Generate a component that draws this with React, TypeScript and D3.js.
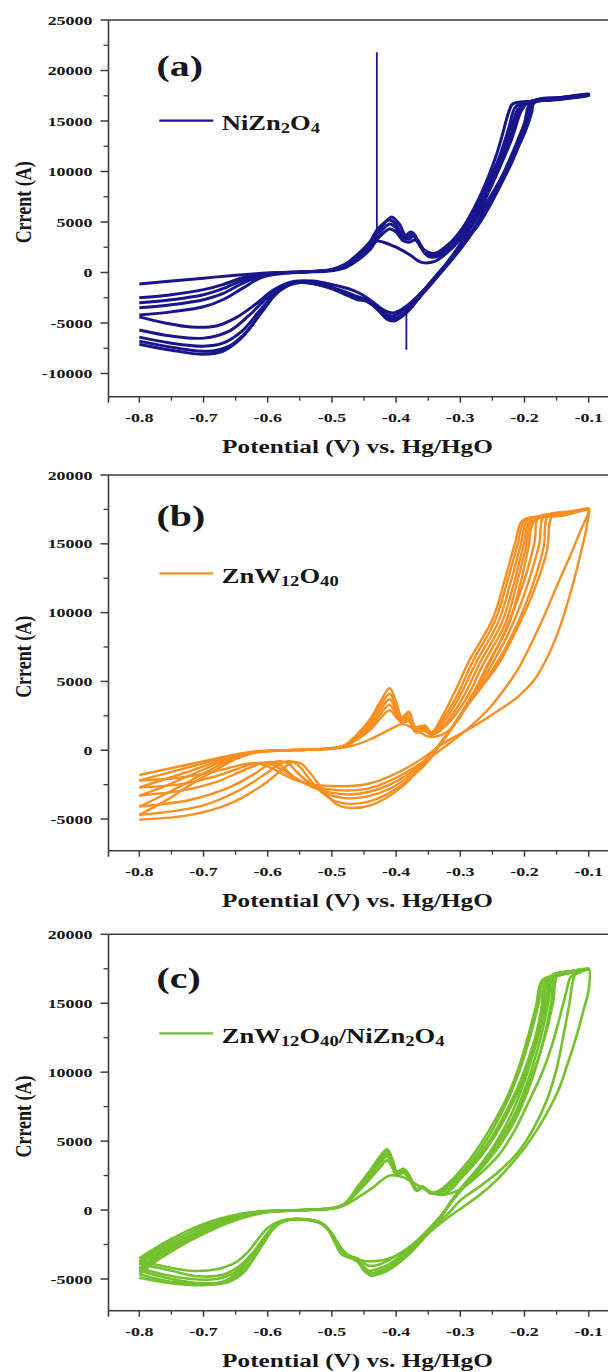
import React from "react";
import * as d3 from "d3";

type Pt = [number, number];

// axis ticks
const potentialTicks = [-0.8, -0.7, -0.6, -0.5, -0.4, -0.3, -0.2, -0.1];
const potentialMinorTicks = [-0.75, -0.65, -0.55, -0.45, -0.35, -0.25, -0.15];
const currentTicksA = [-10000, -5000, 0, 5000, 10000, 15000, 20000, 25000];
const currentMinorTicksA = [-7500, -2500, 2500, 7500, 12500, 17500, 22500];
const currentTicksBC = [-5000, 0, 5000, 10000, 15000, 20000];
const currentMinorTicksBC = [-2500, 2500, 7500, 12500, 17500];

// (a) NiZn2O4 cycles: [potential V, current]
const niZnCycle1: Pt[] = [
  [-0.8, -1150], [-0.75, -850], [-0.7, -560], [-0.65, -280], [-0.6, -60], [-0.55, 40], [-0.5, 180], [-0.48, 450],
  [-0.46, 1200], [-0.44, 2300], [-0.43, 3100], [-0.42, 3000], [-0.4, 2500], [-0.38, 1800], [-0.36, 1000], [-0.34, 1100],
  [-0.32, 2000], [-0.3, 3300], [-0.28, 5000], [-0.26, 7400], [-0.24, 10200], [-0.22, 13200], [-0.205, 16000], [-0.195, 16800],
  [-0.15, 17200], [-0.1, 17500],
  [-0.15, 17100], [-0.185, 16800], [-0.195, 14800], [-0.21, 12500], [-0.23, 10000], [-0.25, 7600], [-0.27, 5300], [-0.29, 3300],
  [-0.31, 1600], [-0.33, 200], [-0.35, -1300], [-0.37, -2600], [-0.39, -3600], [-0.405, -4000], [-0.42, -3700], [-0.435, -3000],
  [-0.45, -2300], [-0.47, -1700], [-0.5, -1200], [-0.53, -850], [-0.56, -900], [-0.59, -1700], [-0.62, -3200], [-0.65, -4500],
  [-0.68, -5300], [-0.72, -5400], [-0.76, -5000], [-0.8, -4400],
];
const niZnCycle2: Pt[] = [
  [-0.8, -2500], [-0.75, -2200], [-0.7, -1700], [-0.67, -1200], [-0.64, -550], [-0.61, -120], [-0.58, 0], [-0.55, 50], [-0.5, 220],
  [-0.48, 550], [-0.46, 1400], [-0.44, 2600], [-0.425, 3600], [-0.41, 4300], [-0.4, 4000], [-0.39, 3200], [-0.38, 3000], [-0.37, 3200],
  [-0.36, 2400], [-0.35, 1600], [-0.33, 1700], [-0.31, 2700], [-0.29, 4200], [-0.27, 6200], [-0.25, 8900], [-0.23, 12000],
  [-0.215, 14800], [-0.205, 16500], [-0.19, 16900], [-0.14, 17200], [-0.1, 17550],
  [-0.14, 17250], [-0.19, 16850], [-0.2, 14800], [-0.215, 12400], [-0.233, 9800], [-0.252, 7300], [-0.272, 5000], [-0.293, 3000],
  [-0.315, 1300], [-0.335, -100], [-0.355, -1600], [-0.375, -2900], [-0.39, -3800], [-0.405, -4300], [-0.42, -4000], [-0.43, -3300],
  [-0.445, -2700], [-0.46, -2400], [-0.48, -1900], [-0.51, -1300], [-0.54, -950], [-0.57, -1200], [-0.6, -2500], [-0.63, -4300],
  [-0.66, -5800], [-0.7, -6500], [-0.75, -6300], [-0.8, -5700],
];
const niZnCycle3: Pt[] = [
  [-0.8, -3000], [-0.75, -2700], [-0.7, -2200], [-0.67, -1600], [-0.64, -800], [-0.61, -200], [-0.58, -20], [-0.55, 60], [-0.5, 250],
  [-0.48, 650], [-0.46, 1600], [-0.44, 2900], [-0.425, 4000], [-0.41, 4800], [-0.4, 4400], [-0.39, 3500], [-0.38, 3300], [-0.373, 3600],
  [-0.365, 2900], [-0.355, 1900], [-0.34, 1600], [-0.32, 2300], [-0.3, 3600], [-0.28, 5400], [-0.26, 7900], [-0.24, 10800],
  [-0.225, 13500], [-0.21, 16200], [-0.2, 16800], [-0.15, 17150], [-0.1, 17600],
  [-0.15, 17250], [-0.188, 16900], [-0.195, 15200], [-0.21, 13000], [-0.226, 10500], [-0.245, 8000], [-0.265, 5600], [-0.286, 3500],
  [-0.31, 1500], [-0.33, 0], [-0.35, -1500], [-0.37, -2900], [-0.385, -3900], [-0.4, -4500], [-0.415, -4300], [-0.428, -3500],
  [-0.44, -2900], [-0.455, -2600], [-0.47, -2200], [-0.5, -1500], [-0.53, -1000], [-0.555, -1000], [-0.58, -1700], [-0.61, -3600],
  [-0.64, -5800], [-0.67, -7000], [-0.7, -7300], [-0.75, -7000], [-0.8, -6400],
];
const niZnCycle4: Pt[] = [
  [-0.8, -3500], [-0.75, -3200], [-0.7, -2700], [-0.67, -2100], [-0.64, -1100], [-0.61, -350], [-0.58, -60], [-0.55, 40], [-0.5, 280],
  [-0.48, 700], [-0.46, 1700], [-0.44, 3000], [-0.425, 4300], [-0.412, 5200], [-0.402, 4900], [-0.392, 3900], [-0.382, 3500],
  [-0.374, 3900], [-0.365, 3000], [-0.355, 2100], [-0.34, 1800], [-0.32, 2500], [-0.3, 3900], [-0.28, 5800], [-0.26, 8400],
  [-0.24, 11300], [-0.225, 14200], [-0.215, 16300], [-0.205, 16800], [-0.16, 17100], [-0.1, 17650],
  [-0.16, 17200], [-0.186, 16950], [-0.191, 15500], [-0.203, 13500], [-0.219, 11000], [-0.236, 8800], [-0.254, 6600], [-0.273, 4600],
  [-0.288, 3500], [-0.31, 1600], [-0.33, 100], [-0.35, -1400], [-0.37, -2800], [-0.385, -3900], [-0.4, -4600], [-0.412, -4600],
  [-0.425, -3900], [-0.437, -3200], [-0.45, -2700], [-0.465, -2500], [-0.48, -2100], [-0.51, -1400], [-0.54, -1000], [-0.56, -1100],
  [-0.585, -2000], [-0.61, -4000], [-0.635, -6000], [-0.66, -7300], [-0.69, -7800], [-0.74, -7500], [-0.8, -6800],
];
const niZnCycle5: Pt[] = [
  [-0.8, -4200], [-0.75, -3900], [-0.7, -3400], [-0.67, -2700], [-0.64, -1600], [-0.61, -500], [-0.58, -120], [-0.55, 20], [-0.5, 300],
  [-0.48, 800], [-0.46, 1800], [-0.44, 3100], [-0.43, 4200], [-0.415, 5100], [-0.407, 5500],
  [-0.395, 4800], [-0.385, 3700], [-0.377, 4000], [-0.366, 3200], [-0.356, 2200], [-0.34, 1900], [-0.32, 2700], [-0.3, 4100],
  [-0.28, 6200], [-0.26, 8900], [-0.245, 11400], [-0.235, 13500], [-0.225, 15800], [-0.218, 16700], [-0.19, 16950], [-0.14, 17250],
  [-0.1, 17700],
  [-0.14, 17350], [-0.184, 17000], [-0.189, 15800], [-0.198, 14100], [-0.212, 12200], [-0.228, 10300], [-0.244, 8500], [-0.259, 6900],
  [-0.275, 5300], [-0.289, 3900], [-0.31, 1900], [-0.33, 200], [-0.35, -1400], [-0.365, -2600], [-0.375, -3400], [-0.384, -4000],
  [-0.392, -4400], [-0.403, -4800], [-0.415, -4600], [-0.425, -3900], [-0.435, -3300],
  [-0.448, -2800], [-0.46, -2700], [-0.475, -2300], [-0.5, -1600], [-0.53, -1100], [-0.55, -1000], [-0.57, -1300], [-0.59, -2300],
  [-0.61, -3900], [-0.63, -5700], [-0.65, -7000], [-0.67, -7800], [-0.7, -8100], [-0.75, -7700], [-0.8, -7100],
];
// (a) measurement spikes (straight vertical glitches)
const niZnSpikeUp: Pt[] = [[-0.43, 4300], [-0.43, 21800]];
const niZnSpikeDown: Pt[] = [[-0.384, -4100], [-0.384, -7650]];

// (b) ZnW12O40 cycles
const znWCycle1: Pt[] = [
  [-0.8, -1800], [-0.76, -1400], [-0.72, -1000], [-0.68, -600], [-0.65, -300], [-0.62, -80], [-0.58, 0], [-0.54, 40], [-0.5, 100],
  [-0.47, 300], [-0.44, 800], [-0.41, 1500], [-0.39, 1900], [-0.37, 1500], [-0.35, 1000], [-0.33, 1100], [-0.31, 1800],
  [-0.285, 3600], [-0.26, 6000], [-0.225, 9100], [-0.207, 12000], [-0.194, 14700], [-0.184, 16700], [-0.14, 17050], [-0.1, 17500],
  [-0.1, 17100], [-0.105, 15800], [-0.115, 13800], [-0.128, 11500], [-0.143, 9200], [-0.162, 7000], [-0.185, 5100], [-0.21, 3900],
  [-0.24, 2900], [-0.27, 2000], [-0.3, 1200], [-0.33, 400], [-0.35, -300], [-0.38, -1200], [-0.41, -1900], [-0.44, -2400],
  [-0.47, -2600], [-0.5, -2600], [-0.53, -2500], [-0.56, -2100], [-0.59, -1400], [-0.61, -1000], [-0.625, -950], [-0.64, -1050],
  [-0.67, -1400], [-0.71, -1800], [-0.75, -2050], [-0.8, -2200],
];
const znWCycle2: Pt[] = [
  [-0.8, -2200], [-0.76, -1700], [-0.72, -1200], [-0.68, -700], [-0.65, -350], [-0.62, -100], [-0.58, -10], [-0.54, 40], [-0.5, 120],
  [-0.48, 300], [-0.46, 800], [-0.44, 1500], [-0.425, 2300], [-0.41, 2900], [-0.4, 2400], [-0.391, 2000], [-0.38, 2100], [-0.37, 1300],
  [-0.355, 1400], [-0.345, 1100], [-0.32, 1900], [-0.29, 3800], [-0.265, 6200], [-0.23, 9200], [-0.212, 12100], [-0.198, 14700],
  [-0.187, 16700], [-0.14, 17100], [-0.1, 17550],
  [-0.1, 17350], [-0.115, 15700], [-0.13, 14000], [-0.15, 11900], [-0.17, 9700], [-0.19, 7700], [-0.21, 5900], [-0.235, 4200],
  [-0.26, 2800], [-0.29, 1500], [-0.32, 400], [-0.34, -300], [-0.37, -1200], [-0.4, -2000], [-0.43, -2600], [-0.46, -2900],
  [-0.49, -2900], [-0.52, -2700], [-0.55, -2200], [-0.575, -1500], [-0.595, -1000], [-0.61, -900], [-0.625, -1000], [-0.65, -1400],
  [-0.69, -2000], [-0.74, -2500], [-0.8, -2700],
];
const znWCycle3: Pt[] = [
  [-0.8, -2700], [-0.76, -2100], [-0.72, -1500], [-0.68, -850], [-0.65, -400], [-0.62, -120], [-0.58, -10], [-0.54, 40], [-0.5, 130],
  [-0.48, 320], [-0.46, 900], [-0.44, 1700], [-0.425, 2600], [-0.41, 3300], [-0.4, 2600], [-0.391, 2100], [-0.38, 2300], [-0.37, 1400],
  [-0.355, 1500], [-0.345, 1150], [-0.322, 2000], [-0.295, 3900], [-0.27, 6300], [-0.235, 9300], [-0.216, 12200], [-0.202, 14800],
  [-0.19, 16700], [-0.14, 17100], [-0.1, 17500],
  [-0.14, 17200], [-0.178, 16950], [-0.184, 15200], [-0.196, 13000], [-0.212, 10800], [-0.232, 8500], [-0.255, 6300], [-0.277, 4400],
  [-0.296, 2900], [-0.315, 1500], [-0.332, 400], [-0.35, -500], [-0.38, -1700], [-0.41, -2500], [-0.44, -3000], [-0.47, -3200],
  [-0.5, -3100], [-0.53, -2700], [-0.56, -1900], [-0.58, -1100], [-0.595, -850], [-0.61, -950], [-0.64, -1500], [-0.68, -2300],
  [-0.73, -2900], [-0.8, -3300],
];
const znWCycle4: Pt[] = [
  [-0.8, -3300], [-0.76, -2600], [-0.72, -1800], [-0.68, -1000], [-0.65, -450], [-0.62, -130], [-0.58, -10], [-0.54, 40], [-0.5, 140],
  [-0.48, 340], [-0.46, 1000], [-0.44, 1900], [-0.425, 2900], [-0.41, 3700], [-0.4, 2900], [-0.391, 2200], [-0.38, 2500], [-0.37, 1500],
  [-0.355, 1600], [-0.345, 1200], [-0.325, 2100], [-0.3, 4000], [-0.275, 6400], [-0.24, 9400], [-0.221, 12300], [-0.206, 14900],
  [-0.195, 16700], [-0.15, 17100], [-0.1, 17550],
  [-0.14, 17250], [-0.17, 17000], [-0.177, 15000], [-0.19, 12800], [-0.206, 10600], [-0.226, 8400], [-0.25, 6300], [-0.273, 4500],
  [-0.292, 3100], [-0.312, 1700], [-0.33, 500], [-0.35, -700], [-0.38, -1900], [-0.41, -2800], [-0.44, -3300], [-0.47, -3500],
  [-0.5, -3300], [-0.525, -2700], [-0.55, -1800], [-0.567, -1000], [-0.58, -800], [-0.595, -950], [-0.62, -1700], [-0.66, -2700],
  [-0.72, -3600], [-0.8, -4100],
];
const znWCycle5: Pt[] = [
  [-0.8, -4100], [-0.76, -3200], [-0.72, -2200], [-0.68, -1200], [-0.65, -550], [-0.62, -150], [-0.58, -20], [-0.54, 40], [-0.5, 150],
  [-0.48, 360], [-0.46, 1100], [-0.44, 2100], [-0.425, 3200], [-0.41, 4100], [-0.4, 3200], [-0.391, 2300], [-0.38, 2700], [-0.37, 1600],
  [-0.355, 1700], [-0.345, 1250], [-0.328, 2200], [-0.305, 4000], [-0.28, 6500], [-0.246, 9400], [-0.226, 12400], [-0.211, 14900],
  [-0.199, 16700], [-0.16, 17050], [-0.1, 17550],
  [-0.13, 17300], [-0.163, 17050], [-0.17, 14800], [-0.183, 12600], [-0.2, 10400], [-0.22, 8300], [-0.245, 6200], [-0.27, 4500],
  [-0.29, 3200], [-0.31, 1800], [-0.33, 600], [-0.35, -800], [-0.38, -2100], [-0.41, -3100], [-0.44, -3700], [-0.47, -3900],
  [-0.495, -3700], [-0.515, -3100], [-0.535, -2100], [-0.55, -1200], [-0.56, -850], [-0.568, -800], [-0.58, -950], [-0.6, -1600],
  [-0.64, -2800], [-0.7, -4000], [-0.8, -4700],
];
const znWCycle6: Pt[] = [
  [-0.8, -4700], [-0.76, -3700], [-0.72, -2500], [-0.68, -1400], [-0.65, -650], [-0.62, -180], [-0.58, -30], [-0.54, 40], [-0.5, 160],
  [-0.48, 380], [-0.46, 1200], [-0.44, 2300], [-0.425, 3500], [-0.41, 4500], [-0.4, 3500], [-0.391, 2400], [-0.38, 2800], [-0.37, 1700],
  [-0.355, 1800], [-0.345, 1300], [-0.33, 2300], [-0.31, 4100], [-0.285, 6600], [-0.25, 9500], [-0.23, 12500], [-0.215, 15000],
  [-0.203, 16700], [-0.17, 17000], [-0.13, 17300], [-0.1, 17600],
  [-0.13, 17350], [-0.156, 17100], [-0.165, 14500], [-0.178, 12500], [-0.195, 10500], [-0.215, 8500], [-0.24, 6300], [-0.265, 4700],
  [-0.285, 3500], [-0.305, 2200], [-0.325, 900], [-0.34, 0], [-0.36, -1000], [-0.38, -2200], [-0.41, -3300], [-0.44, -4000],
  [-0.47, -4200], [-0.49, -4000], [-0.505, -3400], [-0.52, -2500], [-0.535, -1600], [-0.547, -1000], [-0.556, -850], [-0.565, -950],
  [-0.58, -1500], [-0.61, -2600], [-0.66, -3900], [-0.72, -4700], [-0.8, -5050],
];

// (c) ZnW12O40/NiZn2O4 cycles
const compCycle1: Pt[] = [
  [-0.8, -3500], [-0.78, -2900], [-0.75, -2100], [-0.72, -1400], [-0.69, -850], [-0.66, -450], [-0.63, -180], [-0.6, -60], [-0.55, 0],
  [-0.5, 100], [-0.48, 350], [-0.46, 900], [-0.44, 1500], [-0.41, 2500], [-0.39, 2400], [-0.37, 1900], [-0.35, 1400], [-0.33, 1100],
  [-0.3, 1500], [-0.27, 2600], [-0.24, 4000], [-0.215, 5800], [-0.195, 7700], [-0.173, 9900], [-0.157, 12000], [-0.145, 14000],
  [-0.135, 15800], [-0.128, 16900], [-0.115, 17200], [-0.1, 17450],
  [-0.1, 16000], [-0.108, 14500], [-0.121, 12300], [-0.135, 10300], [-0.147, 8700], [-0.162, 7300], [-0.178, 6000], [-0.2, 4500],
  [-0.225, 3100], [-0.245, 2100], [-0.267, 1200], [-0.29, 400], [-0.318, -500], [-0.34, -1300], [-0.36, -2100], [-0.385, -2900],
  [-0.41, -3500], [-0.43, -3700], [-0.45, -3700], [-0.47, -3500],
  [-0.485, -3200], [-0.495, -2400], [-0.505, -1500], [-0.52, -900], [-0.54, -700], [-0.56, -650], [-0.58, -800], [-0.6, -1300],
  [-0.615, -2100], [-0.63, -3000], [-0.65, -3800], [-0.68, -4300], [-0.72, -4400], [-0.76, -4100], [-0.8, -3700],
];
const compCycle2: Pt[] = [
  [-0.8, -3700], [-0.78, -3100], [-0.75, -2300], [-0.72, -1600], [-0.69, -1000], [-0.66, -550], [-0.63, -230], [-0.6, -80], [-0.55, 0],
  [-0.5, 120], [-0.48, 400], [-0.46, 1300], [-0.44, 2300], [-0.425, 3100], [-0.414, 3600], [-0.405, 3000], [-0.399, 2500],
  [-0.388, 2700], [-0.378, 2100], [-0.368, 1400], [-0.359, 1600], [-0.345, 1200], [-0.32, 1300], [-0.295, 2500], [-0.27, 3800],
  [-0.245, 5500], [-0.22, 7600], [-0.2, 9700], [-0.185, 11900], [-0.172, 14300], [-0.163, 16600], [-0.14, 17100], [-0.1, 17450],
  [-0.12, 17200], [-0.125, 16500], [-0.13, 15000], [-0.138, 13000], [-0.145, 11300], [-0.152, 9900], [-0.165, 8000], [-0.185, 6000],
  [-0.21, 4200], [-0.24, 2800], [-0.27, 1700], [-0.3, 700], [-0.32, -300], [-0.35, -1500], [-0.38, -2700], [-0.41, -3600],
  [-0.43, -4000], [-0.445, -4000],
  [-0.46, -3500], [-0.475, -3300], [-0.488, -2800], [-0.498, -2000], [-0.51, -1200], [-0.53, -750], [-0.555, -650], [-0.575, -800],
  [-0.595, -1400], [-0.61, -2300], [-0.625, -3200], [-0.645, -4100], [-0.67, -4700], [-0.71, -4800], [-0.75, -4400], [-0.8, -3900],
];
const compCycle3: Pt[] = [
  [-0.8, -3900], [-0.78, -3300], [-0.75, -2500], [-0.72, -1800], [-0.69, -1150], [-0.66, -650], [-0.63, -280], [-0.6, -100],
  [-0.55, -10], [-0.5, 130], [-0.48, 420], [-0.46, 1400], [-0.44, 2500], [-0.425, 3400], [-0.414, 3900], [-0.405, 3200],
  [-0.399, 2600], [-0.388, 2800], [-0.378, 2200], [-0.368, 1450], [-0.359, 1650], [-0.345, 1200], [-0.32, 1500], [-0.295, 2600],
  [-0.265, 4100], [-0.24, 5900], [-0.215, 8300], [-0.195, 10800], [-0.178, 13300], [-0.165, 15600], [-0.155, 16900], [-0.13, 17200],
  [-0.1, 17500],
  [-0.12, 17350], [-0.148, 17100], [-0.155, 15200], [-0.164, 13300], [-0.175, 11500], [-0.187, 9900], [-0.202, 8100], [-0.22, 6400],
  [-0.24, 4900], [-0.265, 3340], [-0.29, 2100], [-0.31, 900], [-0.33, -400], [-0.35, -1400], [-0.38, -2800], [-0.41, -3900],
  [-0.43, -4300], [-0.443, -4400], [-0.455, -3900], [-0.47, -3450], [-0.483, -3000], [-0.494, -2200], [-0.505, -1400], [-0.52, -850],
  [-0.545, -680], [-0.565, -700], [-0.585, -1000], [-0.6, -1700], [-0.615, -2600], [-0.63, -3600], [-0.65, -4500], [-0.68, -5000],
  [-0.72, -5000], [-0.76, -4700], [-0.8, -4200],
];
const compCycle4: Pt[] = [
  [-0.8, -4200], [-0.78, -3500], [-0.75, -2650], [-0.72, -1900], [-0.69, -1250], [-0.66, -700], [-0.63, -330], [-0.6, -110],
  [-0.55, -10], [-0.5, 140], [-0.48, 440], [-0.46, 1500], [-0.44, 2700], [-0.425, 3600], [-0.414, 4100], [-0.405, 3400],
  [-0.399, 2700], [-0.388, 2900], [-0.378, 2300], [-0.368, 1500], [-0.359, 1700], [-0.345, 1200], [-0.325, 1500], [-0.3, 2600],
  [-0.275, 4000], [-0.25, 5800], [-0.225, 8100], [-0.205, 10500], [-0.19, 12800], [-0.178, 15000], [-0.17, 16700], [-0.14, 17100],
  [-0.1, 17500],
  [-0.13, 17250], [-0.152, 17050], [-0.158, 15200], [-0.167, 13000], [-0.18, 10700], [-0.196, 8500], [-0.215, 6500], [-0.237, 4800],
  [-0.262, 3300], [-0.29, 1900], [-0.31, 800], [-0.33, -400], [-0.35, -1500], [-0.38, -3000], [-0.41, -4100], [-0.43, -4500],
  [-0.44, -4600], [-0.452, -4100], [-0.465, -3500], [-0.48, -3100], [-0.49, -2500], [-0.502, -1600], [-0.517, -950], [-0.54, -700],
  [-0.56, -660], [-0.58, -850], [-0.597, -1500], [-0.612, -2500], [-0.628, -3500], [-0.645, -4500], [-0.67, -5200], [-0.71, -5300],
  [-0.75, -5000], [-0.8, -4400],
];
const compCycle5: Pt[] = [
  [-0.8, -4400], [-0.78, -3700], [-0.75, -2800], [-0.72, -2050], [-0.69, -1350], [-0.66, -780], [-0.63, -380], [-0.6, -130],
  [-0.55, -15], [-0.5, 150], [-0.48, 460], [-0.46, 1600], [-0.44, 2800], [-0.425, 3800], [-0.414, 4300], [-0.405, 3500],
  [-0.399, 2750], [-0.388, 2950], [-0.378, 2350], [-0.368, 1500], [-0.359, 1700], [-0.345, 1250], [-0.325, 1600], [-0.303, 2700],
  [-0.28, 4000], [-0.255, 5800], [-0.23, 7900], [-0.21, 10200], [-0.195, 12500], [-0.182, 14800], [-0.172, 16700], [-0.14, 17100],
  [-0.1, 17500],
  [-0.13, 17300], [-0.155, 17050], [-0.162, 15300], [-0.172, 13000], [-0.185, 10800], [-0.2, 8700], [-0.218, 6700], [-0.24, 5000],
  [-0.265, 3400], [-0.292, 1900], [-0.312, 700], [-0.33, -500], [-0.35, -1600], [-0.38, -3100], [-0.41, -4200], [-0.43, -4600],
  [-0.44, -4700], [-0.45, -4300], [-0.462, -3600], [-0.477, -3200], [-0.488, -2600], [-0.5, -1700], [-0.515, -1000], [-0.535, -720],
  [-0.555, -650], [-0.575, -800], [-0.593, -1400], [-0.608, -2400], [-0.623, -3500], [-0.64, -4500], [-0.665, -5200], [-0.7, -5400],
  [-0.75, -5200], [-0.8, -4650],
];
const compCycle6: Pt[] = [
  [-0.8, -4650], [-0.78, -3900], [-0.75, -3000], [-0.72, -2200], [-0.69, -1500], [-0.66, -900], [-0.63, -450], [-0.6, -150],
  [-0.55, -20], [-0.5, 150], [-0.48, 480], [-0.46, 1700], [-0.44, 2900], [-0.425, 3900], [-0.414, 4400], [-0.405, 3600],
  [-0.399, 2800], [-0.388, 3000], [-0.378, 2400], [-0.368, 1500], [-0.359, 1700], [-0.345, 1250], [-0.33, 1500], [-0.31, 2300],
  [-0.289, 3000], [-0.258, 4800], [-0.228, 7200], [-0.204, 9600], [-0.186, 12000], [-0.174, 14500], [-0.167, 16600], [-0.14, 17100],
  [-0.1, 17550],
  [-0.13, 17300], [-0.158, 17000], [-0.165, 15300], [-0.176, 13000], [-0.19, 10800], [-0.205, 8700], [-0.222, 6800], [-0.243, 5000],
  [-0.268, 3300], [-0.295, 1800], [-0.315, 600], [-0.33, -500], [-0.35, -1700], [-0.38, -3200], [-0.41, -4300], [-0.43, -4700],
  [-0.44, -4750], [-0.45, -4400], [-0.46, -3700], [-0.475, -3300], [-0.487, -2700], [-0.499, -1800], [-0.513, -1050], [-0.533, -720],
  [-0.553, -650], [-0.573, -780], [-0.59, -1300], [-0.605, -2300], [-0.62, -3400], [-0.637, -4500], [-0.66, -5200], [-0.7, -5450],
  [-0.75, -5300], [-0.8, -4900],
];

const FONT = "'Liberation Serif', 'Times New Roman', Times, serif";
const STRETCH = 1.33;
const INK = "#161616";
const AXIS = "#3c3c3c";
const W = 608;
const H = 1372;
const LEFT = 108.5;
const X_DOMAIN: [number, number] = [-0.848, -0.05];
const X_RIGHT = 620.8;

type LegendPart = { t: string; sub?: boolean };

type Panel = {
  id: string;
  top: number;
  bottom: number;
  yDomain: [number, number];
  yTicks: number[];
  yMinor: number[];
  color: string;
  width: number;
  tag: string;
  tagY: number;
  legendY: number;
  legend: LegendPart[];
  cycles: Pt[][];
  spikes: Pt[][];
};

const panels: Panel[] = [
  {
    id: "a", top: 20, bottom: 396.7, yDomain: [-12300, 25000], yTicks: currentTicksA, yMinor: currentMinorTicksA,
    color: "#18168c", width: 3, tag: "(a)", tagY: 75.5, legendY: 120.7,
    legend: [{ t: "NiZn" }, { t: "2", sub: true }, { t: "O" }, { t: "4", sub: true }],
    cycles: [niZnCycle1, niZnCycle2, niZnCycle3, niZnCycle4, niZnCycle5],
    spikes: [niZnSpikeUp, niZnSpikeDown],
  },
  {
    id: "b", top: 475, bottom: 850.7, yDomain: [-7300, 20000], yTicks: currentTicksBC, yMinor: currentMinorTicksBC,
    color: "#f98f21", width: 2.4, tag: "(b)", tagY: 526, legendY: 573.3,
    legend: [{ t: "ZnW" }, { t: "12", sub: true }, { t: "O" }, { t: "40", sub: true }],
    cycles: [znWCycle1, znWCycle2, znWCycle3, znWCycle4, znWCycle5, znWCycle6],
    spikes: [],
  },
  {
    id: "c", top: 934.3, bottom: 1310.7, yDomain: [-7300, 20000], yTicks: currentTicksBC, yMinor: currentMinorTicksBC,
    color: "#73c12d", width: 2.6, tag: "(c)", tagY: 988, legendY: 1033.3,
    legend: [
      { t: "ZnW" }, { t: "12", sub: true }, { t: "O" }, { t: "40", sub: true }, { t: "/NiZn" },
      { t: "2", sub: true }, { t: "O" }, { t: "4", sub: true },
    ],
    cycles: [compCycle1, compCycle2, compCycle3, compCycle4, compCycle5, compCycle6],
    spikes: [],
  },
];

const SText = ({ x, y, size, anchor = "start", rotate = false, children }: any) => (
  <text
    transform={`translate(${x},${y}) scale(${STRETCH},1)${rotate ? " rotate(-90)" : ""}`}
    textAnchor={anchor}
    fontSize={size}
    fontWeight="bold"
    fontFamily={FONT}
    fill={INK}
  >
    {children}
  </text>
);

const CvPanel = ({ p }: { p: Panel }) => {
  const x = d3.scaleLinear().domain(X_DOMAIN).range([LEFT, X_RIGHT]);
  const y = d3.scaleLinear().domain(p.yDomain).range([p.bottom, p.top]);
  const smooth = d3
    .line<Pt>()
    .x((d) => x(d[0]))
    .y((d) => y(d[1]))
    .curve(d3.curveCatmullRom.alpha(0.5));
  const straight = d3
    .line<Pt>()
    .x((d) => x(d[0]))
    .y((d) => y(d[1]));
  const fmt = (v: number) => v.toFixed(1);
  const midY = (p.top + p.bottom) / 2 - 6;

  return (
    <g>
      <defs>
        <clipPath id={`clip-${p.id}`}>
          <rect x={LEFT} y={p.top} width={X_RIGHT - LEFT} height={p.bottom - p.top} />
        </clipPath>
      </defs>

      <g clipPath={`url(#clip-${p.id})`}>
        {p.cycles.map((c, i) => (
          <path key={i} d={smooth(c) || ""} fill="none" stroke={p.color} strokeWidth={p.width} strokeLinejoin="round" />
        ))}
        {p.spikes.map((s, i) => (
          <path key={`s${i}`} d={straight(s) || ""} fill="none" stroke={p.color} strokeWidth={1.8} />
        ))}
      </g>

      {/* frame */}
      <line x1={LEFT} x2={X_RIGHT} y1={p.top} y2={p.top} stroke={AXIS} strokeWidth={1.6} />
      <line x1={X_RIGHT} x2={X_RIGHT} y1={p.top} y2={p.bottom} stroke={AXIS} strokeWidth={1.6} />
      <line x1={LEFT} x2={X_RIGHT} y1={p.bottom} y2={p.bottom} stroke={AXIS} strokeWidth={1.6} />
      <line x1={LEFT} x2={LEFT} y1={p.top} y2={p.bottom + 6} stroke={AXIS} strokeWidth={1.6} />

      {/* y ticks */}
      {p.yTicks.map((v) => (
        <g key={`y${v}`}>
          <line x1={LEFT - 8} x2={LEFT} y1={y(v)} y2={y(v)} stroke={AXIS} strokeWidth={1.5} />
          <SText x={LEFT - 16} y={y(v) + 4.6} size={13.5} anchor="end">{String(v)}</SText>
        </g>
      ))}
      {p.yMinor.map((v) => (
        <line key={`ym${v}`} x1={LEFT - 5} x2={LEFT} y1={y(v)} y2={y(v)} stroke={AXIS} strokeWidth={1.3} />
      ))}

      {/* x ticks */}
      {potentialTicks.map((v) => (
        <g key={`x${v}`}>
          <line x1={x(v)} x2={x(v)} y1={p.bottom} y2={p.bottom + 6} stroke={AXIS} strokeWidth={1.5} />
          <SText x={x(v)} y={p.bottom + 25} size={13.5} anchor="middle">{fmt(v)}</SText>
        </g>
      ))}
      {potentialMinorTicks.map((v) => (
        <line key={`xm${v}`} x1={x(v)} x2={x(v)} y1={p.bottom} y2={p.bottom + 4} stroke={AXIS} strokeWidth={1.3} />
      ))}

      {/* axis titles */}
      <SText x={357.5} y={p.bottom + 56} size={19} anchor="middle">Potential (V) vs. Hg/HgO</SText>
      <SText x={31} y={midY} size={18} anchor="middle" rotate>Crrent (A)</SText>

      {/* panel tag */}
      <SText x={156.5} y={p.tagY} size={30}>{p.tag}</SText>

      {/* legend */}
      <line x1={159.3} x2={213.3} y1={p.legendY} y2={p.legendY} stroke={p.color} strokeWidth={2.3} />
      <SText x={221.7} y={p.legendY + 9.5} size={20}>
        {p.legend.map((part, i) => {
          const prev = i > 0 ? p.legend[i - 1] : null;
          let dy = 0;
          if (part.sub && !(prev && prev.sub)) dy = 3;
          if (!part.sub && prev && prev.sub) dy = -3;
          return (
            <tspan key={i} dy={dy} fontSize={part.sub ? 14 : 20}>
              {part.t}
            </tspan>
          );
        })}
      </SText>
    </g>
  );
};

export default function App() {
  return (
    <svg
      width={W}
      height={H}
      viewBox={`0 0 ${W} ${H}`}
      style={{ position: "absolute", left: 0, top: 0, background: "#ffffff" }}
    >
      <rect x={0} y={0} width={W} height={H} fill="#ffffff" />
      {panels.map((p) => (
        <CvPanel key={p.id} p={p} />
      ))}
    </svg>
  );
}
